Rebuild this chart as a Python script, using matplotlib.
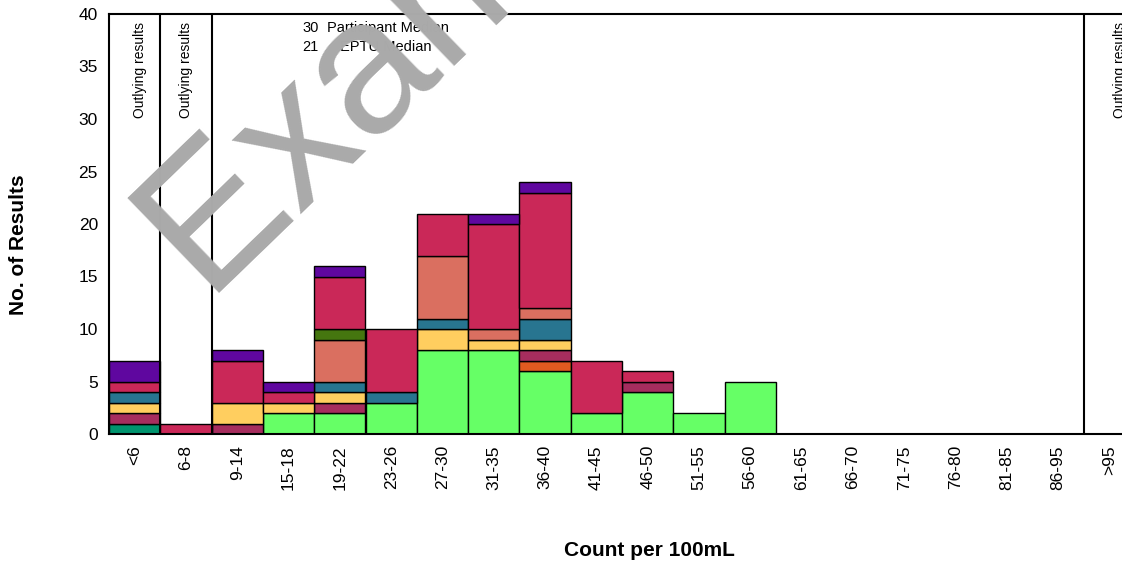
import numpy as np
import matplotlib
matplotlib.use("Agg")
import matplotlib.pyplot as plt

plt.rcParams['font.family'] = ['Liberation Sans', 'DejaVu Sans']

categories = ['<6', '6-8', '9-14', '15-18', '19-22', '23-26', '27-30', '31-35',
              '36-40', '41-45', '46-50', '51-55', '56-60', '61-65', '66-70',
              '71-75', '76-80', '81-85', '86-95', '>95']

# counts per method, stacked bottom to top
dark_green   = [1, 0, 0, 0, 0, 0, 0, 0, 0, 0, 0, 0, 0, 0, 0, 0, 0, 0, 0, 0]
bright_green = [0, 0, 0, 2, 2, 3, 8, 8, 6, 2, 4, 2, 5, 0, 0, 0, 0, 0, 0, 0]
orange       = [0, 0, 0, 0, 0, 0, 0, 0, 1, 0, 0, 0, 0, 0, 0, 0, 0, 0, 0, 0]
maroon       = [1, 0, 1, 0, 1, 0, 0, 0, 1, 0, 1, 0, 0, 0, 0, 0, 0, 0, 0, 0]
yellow       = [1, 0, 2, 1, 1, 0, 2, 1, 1, 0, 0, 0, 0, 0, 0, 0, 0, 0, 0, 0]
teal         = [1, 0, 0, 0, 1, 1, 1, 0, 2, 0, 0, 0, 0, 0, 0, 0, 0, 0, 0, 0]
salmon       = [0, 0, 0, 0, 4, 0, 6, 1, 1, 0, 0, 0, 0, 0, 0, 0, 0, 0, 0, 0]
olive        = [0, 0, 0, 0, 1, 0, 0, 0, 0, 0, 0, 0, 0, 0, 0, 0, 0, 0, 0, 0]
crimson      = [1, 1, 4, 1, 5, 6, 4, 10, 11, 5, 1, 0, 0, 0, 0, 0, 0, 0, 0, 0]
purple       = [2, 0, 1, 1, 1, 0, 0, 1, 1, 0, 0, 0, 0, 0, 0, 0, 0, 0, 0, 0]

series = [
    (dark_green, '#00946E'),
    (bright_green, '#66FF66'),
    (orange, '#E05A20'),
    (maroon, '#A62D5E'),
    (yellow, '#FFCE5F'),
    (teal, '#287590'),
    (salmon, '#DA6F60'),
    (olive, '#45760F'),
    (crimson, '#CA2858'),
    (purple, '#5F079F'),
]

participant_median = 30
eptu_median = 21
outlier_bounds = [0.5, 1.5, 18.5]
outlier_label_x = [0.1, 1.0, 19.2]

W, H = 1122, 564
fig = plt.figure(figsize=(W / 100, H / 100), dpi=100)
ax = fig.add_axes([109 / W, 1 - 434 / H, (1135 - 109) / W, (434 - 14) / H])

x = np.arange(len(categories))
bottom = np.zeros(len(categories))
for vals, col in series:
    vals = np.array(vals, dtype=float)
    mask = vals > 0
    ax.bar(x[mask], vals[mask], width=1.0, bottom=bottom[mask], color=col,
           edgecolor='black', linewidth=1.0, zorder=2)
    bottom += vals

for b in outlier_bounds:
    ax.axvline(b, color='black', linewidth=1.5, zorder=3)
for xl in outlier_label_x:
    ax.text(xl, 39.2, 'Outlying results', rotation=90, ha='center', va='top',
            fontsize=10, zorder=4)

ax.set_xlim(-0.5, len(categories) - 0.5)
ax.set_ylim(0, 40)
ax.set_yticks(range(0, 41, 5))
ax.set_xticks(x)
ax.set_xticklabels(categories, rotation=90, va='top', ha='center')
ax.tick_params(axis='both', length=0, labelsize=12.5)
ax.tick_params(axis='x', pad=8)
ax.tick_params(axis='y', pad=8)
for side in ['left', 'bottom', 'top']:
    ax.spines[side].set_linewidth(1.5)
ax.spines['right'].set_visible(False)

# median key
fig.text(302 / W, 1 - 28 / H, str(participant_median), fontsize=10.5, va='center')
fig.text(327 / W, 1 - 28 / H, 'Participant Median', fontsize=10.5, va='center')
fig.text(302 / W, 1 - 47 / H, str(eptu_median), fontsize=10.5, va='center')
fig.text(340 / W, 1 - 47 / H, 'EPTU Median', fontsize=10.5, va='center')

fig.text(18 / W, 1 - 245 / H, 'No. of Results', rotation=90, ha='center',
         va='center', fontsize=15, fontweight='bold')
fig.text(649 / W, 1 - 551 / H, 'Count per 100mL', ha='center', va='center',
         fontsize=15, fontweight='bold')

# watermark
fig.text(203 / W, 1 - 293 / H, 'Example', rotation=44, rotation_mode='anchor',
         ha='left', va='baseline', fontsize=138, color='#AAAAAA', zorder=10)

fig.savefig('out.png', dpi=100)
